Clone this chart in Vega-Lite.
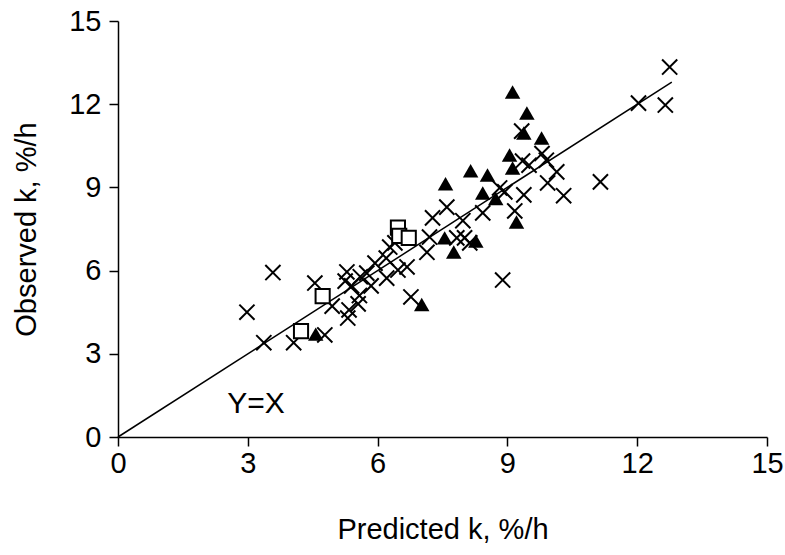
{
  "$schema": "https://vega.github.io/schema/vega-lite/v6.json",
  "autosize": {"type": "none"},
  "width": 649,
  "height": 416,
  "padding": {"left": 118, "top": 21, "right": 18, "bottom": 118},
  "background": "white",
  "config": {
    "view": {"stroke": null},
    "font": "Liberation Sans",
    "axis": {
      "grid": false,
      "domainColor": "black",
      "domainWidth": 1.5,
      "tickColor": "black",
      "tickWidth": 1.5,
      "tickSize": 9,
      "labelFlush": false,
      "labelOverlap": false,
      "labelFont": "Liberation Sans",
      "labelFontSize": 29,
      "labelColor": "black",
      "titleFont": "Liberation Sans",
      "titleFontSize": 29,
      "titleFontWeight": "normal",
      "titleColor": "black"
    }
  },
  "datasets": {
    "pts": [
      {"pred": 2.98, "obs": 4.50, "group": "cross"},
      {"pred": 3.58, "obs": 5.93, "group": "cross"},
      {"pred": 3.37, "obs": 3.40, "group": "cross"},
      {"pred": 4.06, "obs": 3.40, "group": "cross"},
      {"pred": 4.55, "obs": 5.55, "group": "cross"},
      {"pred": 4.78, "obs": 3.68, "group": "cross"},
      {"pred": 4.95, "obs": 4.72, "group": "cross"},
      {"pred": 5.29, "obs": 5.95, "group": "cross"},
      {"pred": 5.25, "obs": 5.62, "group": "cross"},
      {"pred": 5.40, "obs": 5.45, "group": "cross"},
      {"pred": 5.34, "obs": 4.58, "group": "cross"},
      {"pred": 5.31, "obs": 4.29, "group": "cross"},
      {"pred": 5.55, "obs": 4.80, "group": "cross"},
      {"pred": 5.58, "obs": 5.10, "group": "cross"},
      {"pred": 5.60, "obs": 5.78, "group": "cross"},
      {"pred": 5.75, "obs": 5.91, "group": "cross"},
      {"pred": 5.85, "obs": 5.45, "group": "cross"},
      {"pred": 5.94, "obs": 6.27, "group": "cross"},
      {"pred": 6.20, "obs": 6.45, "group": "cross"},
      {"pred": 6.28, "obs": 6.85, "group": "cross"},
      {"pred": 6.21, "obs": 5.73, "group": "cross"},
      {"pred": 6.47, "obs": 6.02, "group": "cross"},
      {"pred": 6.68, "obs": 6.13, "group": "cross"},
      {"pred": 6.40, "obs": 7.00, "group": "cross"},
      {"pred": 6.77, "obs": 5.05, "group": "cross"},
      {"pred": 7.14, "obs": 6.66, "group": "cross"},
      {"pred": 7.20, "obs": 7.21, "group": "cross"},
      {"pred": 7.27, "obs": 7.90, "group": "cross"},
      {"pred": 7.60, "obs": 8.29, "group": "cross"},
      {"pred": 7.83, "obs": 7.18, "group": "cross"},
      {"pred": 7.97, "obs": 7.80, "group": "cross"},
      {"pred": 8.01, "obs": 7.18, "group": "cross"},
      {"pred": 8.13, "obs": 7.00, "group": "cross"},
      {"pred": 8.43, "obs": 8.08, "group": "cross"},
      {"pred": 8.82, "obs": 8.98, "group": "cross"},
      {"pred": 8.94, "obs": 8.84, "group": "cross"},
      {"pred": 8.89, "obs": 5.66, "group": "cross"},
      {"pred": 9.17, "obs": 8.15, "group": "cross"},
      {"pred": 9.38, "obs": 8.73, "group": "cross"},
      {"pred": 9.33, "obs": 11.03, "group": "cross"},
      {"pred": 9.35, "obs": 9.95, "group": "cross"},
      {"pred": 9.50, "obs": 9.80, "group": "cross"},
      {"pred": 9.80, "obs": 10.22, "group": "cross"},
      {"pred": 9.90, "obs": 9.98, "group": "cross"},
      {"pred": 10.14, "obs": 9.56, "group": "cross"},
      {"pred": 9.93, "obs": 9.16, "group": "cross"},
      {"pred": 10.30, "obs": 8.70, "group": "cross"},
      {"pred": 11.15, "obs": 9.20, "group": "cross"},
      {"pred": 12.03, "obs": 12.04, "group": "cross"},
      {"pred": 12.65, "obs": 11.97, "group": "cross"},
      {"pred": 12.75, "obs": 13.34, "group": "cross"},
      {"pred": 4.23, "obs": 3.82, "group": "square"},
      {"pred": 4.73, "obs": 5.08, "group": "square"},
      {"pred": 6.47, "obs": 7.55, "group": "square"},
      {"pred": 6.50, "obs": 7.25, "group": "square"},
      {"pred": 6.72, "obs": 7.18, "group": "square"},
      {"pred": 4.57, "obs": 3.71, "group": "triangle"},
      {"pred": 7.02, "obs": 4.78, "group": "triangle"},
      {"pred": 7.55, "obs": 7.18, "group": "triangle"},
      {"pred": 7.76, "obs": 6.67, "group": "triangle"},
      {"pred": 8.27, "obs": 7.07, "group": "triangle"},
      {"pred": 7.57, "obs": 9.13, "group": "triangle"},
      {"pred": 8.15, "obs": 9.60, "group": "triangle"},
      {"pred": 8.54, "obs": 9.45, "group": "triangle"},
      {"pred": 8.43, "obs": 8.80, "group": "triangle"},
      {"pred": 8.73, "obs": 8.60, "group": "triangle"},
      {"pred": 9.05, "obs": 10.17, "group": "triangle"},
      {"pred": 9.12, "obs": 9.70, "group": "triangle"},
      {"pred": 9.21, "obs": 7.75, "group": "triangle"},
      {"pred": 9.12, "obs": 12.44, "group": "triangle"},
      {"pred": 9.45, "obs": 11.68, "group": "triangle"},
      {"pred": 9.38, "obs": 10.96, "group": "triangle"},
      {"pred": 9.79, "obs": 10.78, "group": "triangle"}
    ],
    "line": [
      {"pred": 0, "obs": 0},
      {"pred": 12.8, "obs": 12.8}
    ],
    "label": [
      {"pred": 3.19, "obs": 1.2, "text": "Y=X"}
    ]
  },
  "encoding": {
    "x": {"field": "pred", "type": "quantitative", "scale": {"domain": [0, 15], "nice": false, "zero": false},
          "axis": {"values": [0, 3, 6, 9, 12, 15], "title": "Predicted k, %/h", "labelPadding": 3, "titlePadding": 37}},
    "y": {"field": "obs", "type": "quantitative", "scale": {"domain": [0, 15], "nice": false, "zero": false},
          "axis": {"values": [0, 3, 6, 9, 12, 15], "title": "Observed k, %/h", "labelPadding": 8, "titlePadding": 27}}
  },
  "layer": [
    {
      "data": {"name": "line"},
      "mark": {"type": "line", "color": "black", "strokeWidth": 1.5}
    },
    {
      "data": {"name": "pts"},
      "transform": [{"filter": "datum.group === 'cross'"}],
      "mark": {"type": "point", "shape": "M-1,-1L1,1M-1,1L1,-1", "filled": false, "color": "black", "strokeWidth": 2, "size": 230, "opacity": 1}
    },
    {
      "data": {"name": "pts"},
      "transform": [{"filter": "datum.group === 'square'"}],
      "mark": {"type": "point", "shape": "square", "filled": false, "fill": "white", "color": "black", "strokeWidth": 2, "size": 200, "opacity": 1}
    },
    {
      "data": {"name": "pts"},
      "transform": [{"filter": "datum.group === 'triangle'"}],
      "mark": {"type": "point", "shape": "triangle-up", "filled": true, "color": "black", "size": 240, "opacity": 1}
    },
    {
      "data": {"name": "label"},
      "mark": {"type": "text", "fontSize": 30, "font": "Liberation Sans", "color": "black"},
      "encoding": {"text": {"field": "text"}}
    }
  ]
}
